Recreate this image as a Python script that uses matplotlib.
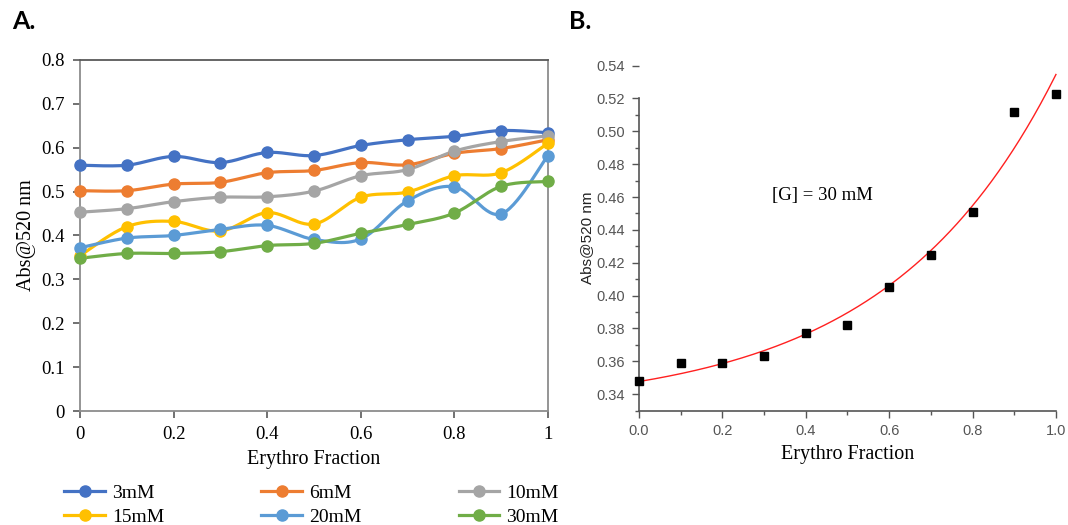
import numpy as np
import matplotlib
matplotlib.use("Agg")
import matplotlib.pyplot as plt
from matplotlib.lines import Line2D

# ---- data ----
erythro_fraction = [0.0, 0.1, 0.2, 0.3, 0.4, 0.5, 0.6, 0.7, 0.8, 0.9, 1.0]

abs_3mM = [0.560, 0.560, 0.580, 0.566, 0.589, 0.582, 0.605, 0.618, 0.626, 0.639, 0.634]
abs_6mM = [0.502, 0.502, 0.517, 0.521, 0.543, 0.548, 0.566, 0.561, 0.587, 0.598, 0.618]
abs_10mM = [0.453, 0.461, 0.477, 0.487, 0.488, 0.501, 0.536, 0.550, 0.592, 0.614, 0.627]
abs_15mM = [0.354, 0.420, 0.432, 0.410, 0.452, 0.426, 0.487, 0.499, 0.536, 0.543, 0.610]
abs_20mM = [0.372, 0.394, 0.400, 0.414, 0.423, 0.391, 0.392, 0.479, 0.511, 0.449, 0.582]
abs_30mM = [0.348, 0.359, 0.359, 0.363, 0.377, 0.382, 0.405, 0.425, 0.451, 0.512, 0.523]

series_labels = ["3mM", "6mM", "10mM", "15mM", "20mM", "30mM"]
series_colors = ["#4472C4", "#ED7D31", "#A5A5A5", "#FFC000", "#5B9BD5", "#70AD47"]

x_ticks_a = [0, 0.2, 0.4, 0.6, 0.8, 1]
x_ticklabels_a = ["0", "0.2", "0.4", "0.6", "0.8", "1"]
y_ticks_a = [0, 0.1, 0.2, 0.3, 0.4, 0.5, 0.6, 0.7, 0.8]
y_ticklabels_a = ["0", "0.1", "0.2", "0.3", "0.4", "0.5", "0.6", "0.7", "0.8"]

x_ticks_b = [0.0, 0.2, 0.4, 0.6, 0.8, 1.0]
y_ticks_b = [0.34, 0.36, 0.38, 0.40, 0.42, 0.44, 0.46, 0.48, 0.50, 0.52, 0.54]

SERIF = ["Liberation Serif", "DejaVu Serif"]
SANS = ["Liberation Sans", "DejaVu Sans"]


def smooth_curve(xs, ys, n=30):
    """Catmull-Rom style Bezier smoothing through every point (spreadsheet 'smoothed line')."""
    p = np.column_stack([xs, ys]).astype(float)
    pts = np.vstack([p[0], p, p[-1]])
    out = [p[:1]]
    t = np.linspace(0, 1, n)[1:, None]
    for i in range(1, len(pts) - 2):
        p0, p1, p2, p3 = pts[i - 1], pts[i], pts[i + 1], pts[i + 2]
        c1 = p1 + (p2 - p0) / 6.0
        c2 = p2 - (p3 - p1) / 6.0
        seg = ((1 - t) ** 3) * p1 + 3 * ((1 - t) ** 2) * t * c1 + 3 * (1 - t) * t ** 2 * c2 + t ** 3 * p2
        out.append(seg)
    c = np.vstack(out)
    return c[:, 0], c[:, 1]


fig = plt.figure(figsize=(10.68, 5.25), dpi=100)

# ---------------- panel A ----------------
axA = fig.add_axes([0.0749, 0.217, 0.4382, 0.669])
all_series = [abs_3mM, abs_6mM, abs_10mM, abs_15mM, abs_20mM, abs_30mM]
handles = []
for vals, col, lab in zip(all_series, series_colors, series_labels):
    sx, sy = smooth_curve(erythro_fraction, vals)
    axA.plot(sx, sy, color=col, lw=2.3, solid_capstyle="round", zorder=3, clip_on=False)
    axA.plot(erythro_fraction, vals, "o", color=col, ms=8, zorder=4, clip_on=False)
    handles.append(Line2D([], [], color=col, lw=2.3, marker="o", ms=8, label=lab))

axA.set_xlim(0, 1)
axA.set_ylim(0, 0.8)
axA.set_xticks(x_ticks_a)
axA.set_xticklabels(x_ticklabels_a, fontfamily=SERIF, fontsize=13.5)
axA.set_yticks(y_ticks_a)
axA.set_yticklabels(y_ticklabels_a, fontfamily=SERIF, fontsize=13.5)
axA.tick_params(direction="out", length=5, width=1.2, color="#595959", pad=6)
for side in ["left", "bottom", "right"]:
    axA.spines[side].set_color("#8c8c8c")
    axA.spines[side].set_linewidth(1.3)
axA.spines["top"].set_color("#595959")
axA.spines["top"].set_linewidth(1.3)
axA.set_xlabel("Erythro Fraction", fontfamily=SERIF, fontsize=14.5, labelpad=5)
axA.set_ylabel("Abs@520 nm", fontfamily=SERIF, fontsize=14.5, labelpad=4)

order = [0, 3, 1, 4, 2, 5]
fig.legend([handles[i] for i in order], [series_labels[i] for i in order],
           ncol=3, loc="center left", bbox_to_anchor=(0.051, 0.038), frameon=False,
           prop={"family": SERIF, "size": 14}, handlelength=2.1, handletextpad=0.35,
           columnspacing=5.0, labelspacing=0.3, borderpad=0)

fig.text(0.011, 0.945, "A.", fontfamily=["Lato", "DejaVu Sans"], fontweight="bold", fontsize=18)

# ---------------- panel B ----------------
axB = fig.add_axes([0.5983, 0.218, 0.3904, 0.657])

# exponential growth fit y = y0 + A*exp(k*x)
xf = np.asarray(erythro_fraction)
yf = np.asarray(abs_30mM)
best = None
for k in np.linspace(0.5, 8, 1501):
    M = np.column_stack([np.ones_like(xf), np.exp(k * xf)])
    coef, *_ = np.linalg.lstsq(M, yf, rcond=None)
    r = np.sum((M @ coef - yf) ** 2)
    if best is None or r < best[0]:
        best = (r, k, coef)
_, k_fit, (y0_fit, a_fit) = best
xx = np.linspace(0, 1, 300)
axB.plot(xx, y0_fit + a_fit * np.exp(k_fit * xx), color="#ff2020", lw=1.0, zorder=2, clip_on=False)
axB.plot(erythro_fraction, abs_30mM, "s", color="black", ms=6, zorder=3, clip_on=False)

axB.set_xlim(0, 1.0)
axB.set_ylim(0.33, 0.54)
axB.set_xticks(x_ticks_b)
axB.set_xticklabels([f"{v:.1f}" for v in x_ticks_b], fontfamily=SANS, fontsize=10.5, color="#555555")
axB.set_xticks(np.arange(0.1, 1.0, 0.2), minor=True)
axB.set_yticks(y_ticks_b)
axB.set_yticklabels([f"{v:.2f}" for v in y_ticks_b], fontfamily=SANS, fontsize=10.5, color="#555555")
axB.set_yticks(np.arange(0.33, 0.525, 0.02), minor=True)
axB.tick_params(which="major", direction="out", length=5, width=1.0, color="#555555", pad=5)
axB.tick_params(which="minor", direction="out", length=3, width=1.0, color="#555555")
axB.spines["top"].set_visible(False)
axB.spines["right"].set_visible(False)
for side in ["left", "bottom"]:
    axB.spines[side].set_color("#555555")
    axB.spines[side].set_linewidth(1.2)
axB.spines["left"].set_bounds(0.33, 0.52)
axB.set_xlabel("Erythro Fraction", fontfamily=SERIF, fontsize=14.5, labelpad=5)
axB.set_ylabel("Abs@520 nm", fontfamily=SANS, fontsize=11, color="#222222", labelpad=2)
axB.text(0.44, 0.461, "[G] = 30 mM", fontfamily=SERIF, fontsize=13.5, ha="center", va="center")

fig.text(0.533, 0.945, "B.", fontfamily=["Lato", "DejaVu Sans"], fontweight="bold", fontsize=18)

fig.savefig("out.png", dpi=100)
